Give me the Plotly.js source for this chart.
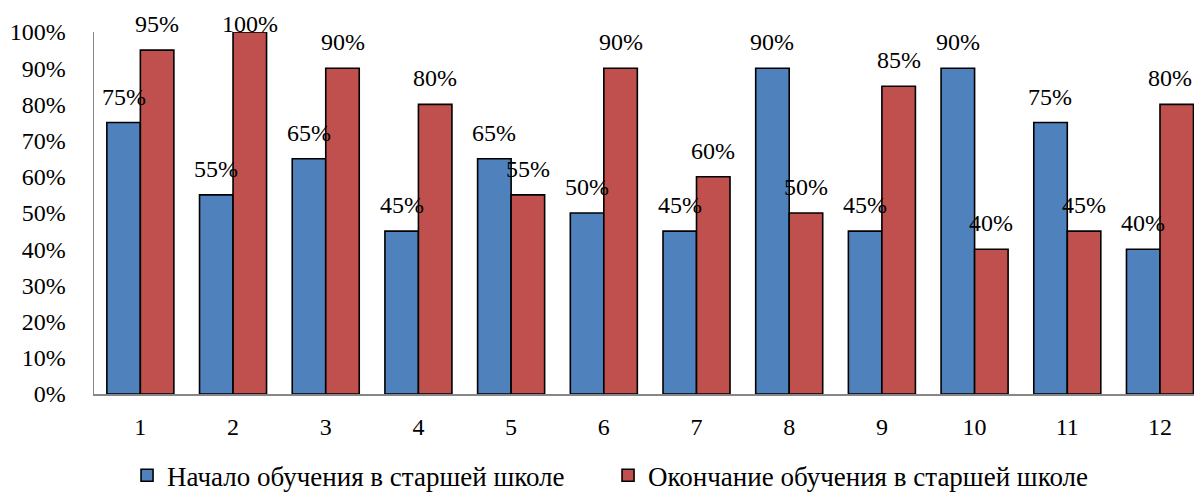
<!DOCTYPE html>
<html>
<head>
<meta charset="utf-8">
<script src="https://cdn.plot.ly/plotly-3.0.1.min.js"></script>
<style>html,body{margin:0;padding:0;background:#fff;}#chart{width:1194px;height:493px;}</style>
</head>
<body>
<div id="chart"></div>
<script>
var categories = ['1','2','3','4','5','6','7','8','9','10','11','12'];
var startValues = [0.75,0.55,0.65,0.45,0.65,0.50,0.45,0.90,0.45,0.90,0.75,0.40];
var endValues = [0.95,1.00,0.90,0.80,0.55,0.90,0.60,0.50,0.85,0.40,0.45,0.80];
var seriesNames = ['Начало обучения в старшей школе','Окончание обучения в старшей школе'];
var yTickVals = [0,0.1,0.2,0.3,0.4,0.5,0.6,0.7,0.8,0.9,1.0];
var yTickText = ['0%','10%','20%','30%','40%','50%','60%','70%','80%','90%','100%'];

var FONT = '"Liberation Serif", "Times New Roman", serif';
var xNum = categories.map(function(c){return Number(c);});

var traces = [
  {type:'bar', name:seriesNames[0], x:xNum, y:startValues,
   marker:{color:'#4F81BD', line:{color:'#000', width:1.6}}, hoverinfo:'none'},
  {type:'bar', name:seriesNames[1], x:xNum, y:endValues,
   marker:{color:'#C0504D', line:{color:'#000', width:1.6}}, hoverinfo:'none'}
];

var W = 1194, ML = 94, XMIN = 0.5, XMAX = 12.367;
var PLOT_TOP = 32, PLOT_H = 362;
var pxPerCat = (W - ML) / (XMAX - XMIN);
var half = 16.8;
var annotations = [];
function pct(v){return Math.round(v*100)+'%';}
function shiftFor(v){
  var top = PLOT_TOP + (1 - v) * PLOT_H;
  var center = top - 26;
  if (center < 24) center = 24;
  return top - center;
}
function xShiftFor(x, s){
  var cx = ML + (x - XMIN) * pxPerCat + s;
  var over = cx + 24 - W;
  return over > 0 ? s - over : s;
}
xNum.forEach(function(x,i){
  annotations.push({x:x, y:startValues[i], xref:'x', yref:'y', text:pct(startValues[i]),
    showarrow:false, xshift:xShiftFor(x,-half), yshift:shiftFor(startValues[i]), yanchor:'middle', xanchor:'center',
    font:{family:FONT, size:24, color:'#000'}});
  annotations.push({x:x, y:endValues[i], xref:'x', yref:'y', text:pct(endValues[i]),
    showarrow:false, xshift:xShiftFor(x,half), yshift:shiftFor(endValues[i]), yanchor:'middle', xanchor:'center',
    font:{family:FONT, size:24, color:'#000'}});
});

var layout = {
  width:W, height:493,
  margin:{l:ML, r:0, t:PLOT_TOP, b:99, autoexpand:false},
  paper_bgcolor:'#fff', plot_bgcolor:'#fff',
  font:{family:FONT, size:24, color:'#000'},
  barmode:'group', bargap:0.277, bargroupgap:0,
  showlegend:true,
  legend:{orientation:'h', xref:'container', x:0.1064, xanchor:'left', yref:'container', y:0.035, yanchor:'middle',
    font:{family:FONT, size:27, color:'#000'}, entrywidth:436, itemwidth:30},
  xaxis:{range:[XMIN,XMAX], tickvals:xNum, ticktext:categories, showline:true,
    linecolor:'#868686', linewidth:1.5, ticks:'', showgrid:false, zeroline:false,
    ticklabelstandoff:11, tickfont:{family:FONT, size:24, color:'#000'}, fixedrange:true},
  yaxis:{range:[0,1], tickvals:yTickVals, ticktext:yTickText, showline:true,
    linecolor:'#868686', linewidth:1.5, ticks:'', showgrid:false, zeroline:false,
    ticklabelstandoff:22, tickfont:{family:FONT, size:24, color:'#000'}, fixedrange:true},
  annotations:annotations
};

Plotly.newPlot('chart', traces, layout, {displayModeBar:false, staticPlot:true});
</script>
</body>
</html>
